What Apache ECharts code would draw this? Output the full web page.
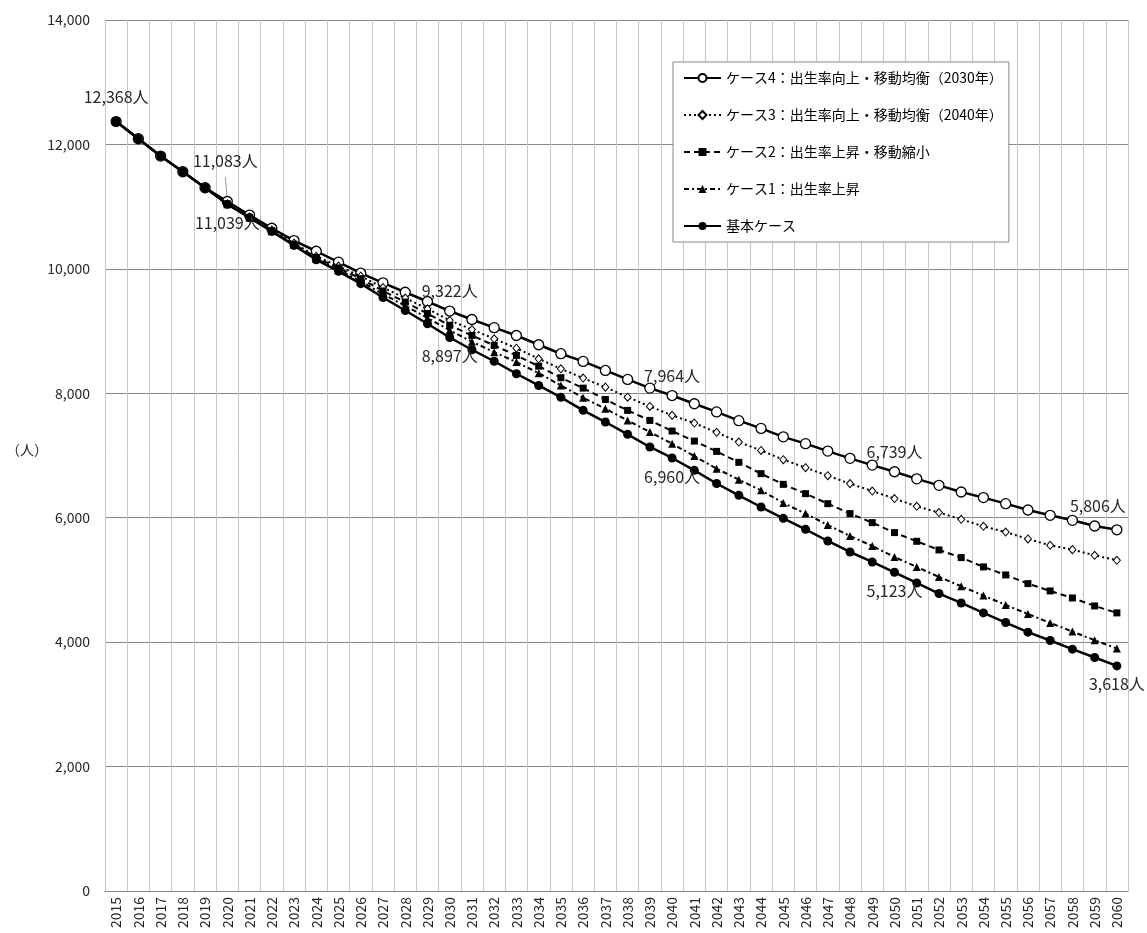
<!DOCTYPE html>
<html><head><meta charset="utf-8">
<script src="https://cdn.jsdelivr.net/npm/echarts@6/dist/echarts.min.js"></script>
<style>html,body{margin:0;padding:0;background:#fff}#c{width:1147px;height:933px}</style>
</head><body><div id="c"></div>
<script>
const years = ['2015','2016','2017','2018','2019','2020','2021','2022','2023','2024','2025','2026','2027','2028','2029','2030','2031','2032','2033','2034','2035','2036','2037','2038','2039','2040','2041','2042','2043','2044','2045','2046','2047','2048','2049','2050','2051','2052','2053','2054','2055','2056','2057','2058','2059','2060'];
const yTicks = [0, 2000, 4000, 6000, 8000, 10000, 12000, 14000];

const case4 = [12368,12091,11813,11561,11304,11083,10865,10653,10455,10283,10107,9930,9775,9624,9475,9322,9186,9055,8929,8780,8636,8512,8367,8223,8083,7964,7832,7700,7560,7435,7300,7190,7071,6954,6846,6739,6625,6520,6413,6323,6226,6124,6039,5958,5867,5806];
const case3 = [12368,12091,11813,11561,11304,11044,10832,10622,10412,10202,10045,9882,9700,9531,9357,9172,9025,8876,8725,8555,8394,8244,8099,7938,7789,7645,7521,7372,7216,7082,6933,6804,6676,6548,6429,6307,6183,6082,5974,5862,5770,5658,5557,5487,5396,5316];
const case2 = [12368,12091,11813,11561,11304,11041,10827,10612,10397,10182,10015,9842,9645,9466,9282,9092,8929,8769,8608,8436,8250,8083,7901,7725,7564,7393,7232,7066,6890,6708,6536,6387,6226,6066,5921,5761,5621,5482,5359,5209,5080,4941,4823,4710,4582,4470];
const case1 = [12368,12091,11813,11561,11304,11040,10824,10606,10385,10162,9985,9802,9595,9406,9212,9012,8830,8661,8501,8324,8126,7929,7752,7564,7377,7190,6990,6788,6612,6440,6236,6066,5883,5706,5546,5369,5209,5048,4898,4749,4598,4453,4309,4170,4031,3898];
const base  = [12368,12091,11813,11561,11304,11039,10822,10602,10377,10147,9960,9762,9540,9331,9117,8897,8700,8515,8314,8126,7935,7726,7538,7340,7137,6960,6761,6550,6360,6172,5990,5814,5626,5449,5289,5123,4951,4781,4630,4470,4315,4160,4026,3887,3753,3618];

const names = ['ケース4：出生率向上・移動均衡（2030年）','ケース3：出生率向上・移動均衡（2040年）','ケース2：出生率上昇・移動縮小','ケース1：出生率上昇','基本ケース'];

const FONT = '"Noto Sans CJK JP", "Noto Sans", sans-serif';
const TXT = '#262626';

// which points carry a value label, and where
const labelSpecs = {
  case4: {'2020': {offset:[-2,-21], line:true}, '2030': {pos:'top'}, '2040': {pos:'top'}, '2050': {pos:'top'}, '2060': {pos:'top', offset:[-19,-4]}},
  base:  {'2015': {pos:'top', distance:12}, '2020': {pos:'bottom', distance:6}, '2030': {pos:'bottom', distance:6}, '2040': {pos:'bottom', distance:6}, '2050': {pos:'bottom', distance:6}, '2060': {pos:'bottom', distance:6}}
};

function fmt(v){ return v.toLocaleString('en-US'); }

function build(values, specs){
  return values.map((v,i)=>{
    const s = specs && specs[years[i]];
    if(!s) return v;
    const lab = {show:true, formatter: p => fmt(p.value)+'人', fontSize:16, color:TXT, fontFamily:FONT, position: s.pos || 'top', distance: s.distance || 6};
    if (s.offset) lab.offset = s.offset;
    const item = {value:v, label:lab};
    if (s.line) item.labelLine = {show:true, lineStyle:{color:'#999', width:1}};
    return item;
  });
}

const chart = echarts.init(document.getElementById('c'), null, {renderer:'canvas'});
chart.setOption({
  animation:false,
  backgroundColor:'#fff',
  grid:{left:105, right:19, top:20, bottom:42, containLabel:false},
  legend:{
    orient:'vertical', left:673, top:62, itemWidth:37, itemHeight:10, itemGap:23,
    padding:[9,6,9,10], backgroundColor:'#fff', borderColor:'#888', borderWidth:1,
    textStyle:{fontSize:14, color:'#000', fontFamily:FONT},
    data:names
  },
  xAxis:{
    type:'category', data:years, boundaryGap:true,
    axisLine:{lineStyle:{color:'#868686', width:1}},
    axisTick:{show:false},
    axisLabel:{rotate:90, interval:0, fontSize:14, color:TXT, margin:6, fontFamily:FONT},
    splitLine:{show:true, interval:0, lineStyle:{color:'#c6c6c6', width:1}}
  },
  yAxis:{
    type:'value', min:yTicks[0], max:yTicks[yTicks.length-1], interval:2000,
    axisLine:{show:false}, axisTick:{show:false},
    axisLabel:{formatter:v=>fmt(v), fontSize:14, color:TXT, margin:15, fontFamily:FONT},
    splitLine:{lineStyle:{color:'#868686', width:1}}
  },
  graphic:[{type:'text', left:6, top:443, style:{text:'（人）', fontSize:14, fill:TXT, fontFamily:FONT}}],
  series:[
    {name:names[0], type:'line', data:build(case4, labelSpecs.case4), symbol:'circle', symbolSize:10, showAllSymbol:true,
     itemStyle:{color:'#fff', borderColor:'#000', borderWidth:1.3}, lineStyle:{color:'#000', width:2.5}, z:3},
    {name:names[1], type:'line', data:case3, symbol:'diamond', symbolSize:[7,8], showAllSymbol:true,
     itemStyle:{color:'#fff', borderColor:'#000', borderWidth:1}, lineStyle:{color:'#000', width:2, type:[2,3]}, z:4},
    {name:names[2], type:'line', data:case2, symbol:'rect', symbolSize:7, showAllSymbol:true,
     itemStyle:{color:'#000'}, lineStyle:{color:'#000', width:2, type:[6,4]}, z:5},
    {name:names[3], type:'line', data:case1, symbol:'triangle', symbolSize:8, showAllSymbol:true,
     itemStyle:{color:'#000'}, lineStyle:{color:'#000', width:2, type:[5,3,2,3]}, z:6},
    {name:names[4], type:'line', data:build(base, labelSpecs.base), symbol:'circle', symbolSize:9, showAllSymbol:true,
     itemStyle:{color:'#000'}, lineStyle:{color:'#000', width:2.5}, z:7}
  ]
});
</script>
</body></html>
